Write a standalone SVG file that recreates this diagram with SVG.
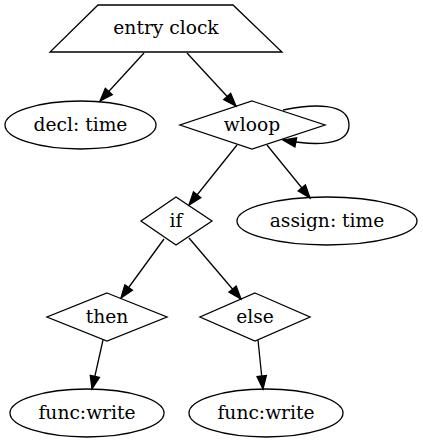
<svg xmlns="http://www.w3.org/2000/svg" width="423" height="443" viewBox="0 0 423 443">
<style>
.n{fill:none;stroke:#000;stroke-width:1.3}
.t{font-family:"DejaVu Serif","Liberation Serif",serif;font-size:18.67px;text-anchor:middle;fill:#000}
.e{fill:none;stroke:#000;stroke-width:1.3;marker-end:url(#ah)}
</style>
<defs>
<marker id="ah" markerUnits="userSpaceOnUse" markerWidth="14" markerHeight="10" refX="13" refY="4.7" orient="auto" overflow="visible">
<path d="M0,0 L13,4.7 L0,9.4 z" fill="#000" stroke="#000" stroke-width="1.3"/>
</marker>
</defs>
<rect width="423" height="443" fill="#fff"/>
<g id="edges">
<path class="e" d="M144,53 L100,101"/>
<path class="e" d="M187,53 L236,106"/>
<path class="e" d="M283,110 C312,104 349,102 349,125 C349,146 315,146 283,140"/>
<path class="e" d="M237,145 L189,205"/>
<path class="e" d="M267,145 L310,198"/>
<path class="e" d="M164,239 L121,298"/>
<path class="e" d="M189,238 L241,299"/>
<path class="e" d="M103,340 L92,389"/>
<path class="e" d="M258,340 L263,389"/>
</g>
<g id="entry">
<polygon class="n" points="98,5 233,5 282,52 50,52"/>
<text class="t" x="166" y="34">entry clock</text>
</g>
<g id="decl">
<ellipse class="n" cx="80.5" cy="125" rx="75.5" ry="24"/>
<text class="t" x="80.5" y="131">decl: time</text>
</g>
<g id="wloop">
<polygon class="n" points="252,101 325,125 252,149 180,125"/>
<text class="t" x="252" y="131">wloop</text>
</g>
<g id="if">
<polygon class="n" points="176,197 212,221 176,245 141,221"/>
<text class="t" x="176" y="227">if</text>
</g>
<g id="assign">
<ellipse class="n" cx="327" cy="221" rx="90" ry="24"/>
<text class="t" x="327" y="227">assign: time</text>
</g>
<g id="then">
<polygon class="n" points="107,293 167,317 107,341 47,317"/>
<text class="t" x="107" y="323">then</text>
</g>
<g id="else">
<polygon class="n" points="255,293 310,317 255,341 200,317"/>
<text class="t" x="255" y="323">else</text>
</g>
<g id="write1">
<ellipse class="n" cx="87" cy="413" rx="77" ry="24"/>
<text class="t" x="87" y="419">func:write</text>
</g>
<g id="write2">
<ellipse class="n" cx="266" cy="413" rx="77" ry="24"/>
<text class="t" x="266" y="419">func:write</text>
</g>
</svg>
